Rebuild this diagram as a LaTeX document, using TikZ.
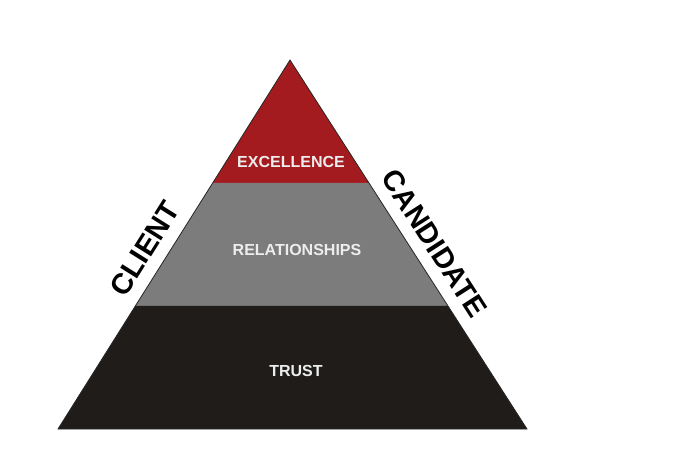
\documentclass[tikz,border=0pt]{standalone}
\usepackage{fontspec}
\setmainfont{Liberation Sans}
\usetikzlibrary{calc}
\definecolor{topred}{HTML}{A31B1F}
\definecolor{midgray}{HTML}{7C7C7C}
\definecolor{basedark}{HTML}{1F1C1A}
\begin{document}
\begin{tikzpicture}[x=1pt,y=1pt,
  tierlabel/.style={font=\bfseries\fontsize{16}{18}\selectfont, text=white!93!black},
  sidelabel/.style={font=\bfseries\fontsize{29}{32}\selectfont, inner sep=0pt, sloped, above=12pt}]
\useasboundingbox (0,0) rectangle (673,451);
\coordinate (apex) at (290,391);
\coordinate (bl) at (58,22);
\coordinate (br) at (527,22);
\coordinate (l1) at ($(apex)!1/3!(bl)$);
\coordinate (r1) at ($(apex)!1/3!(br)$);
\coordinate (l2) at ($(apex)!2/3!(bl)$);
\coordinate (r2) at ($(apex)!2/3!(br)$);

\fill[topred] (apex) -- (l1) -- (r1) -- cycle;
\fill[midgray] (l1) -- (l2) -- (r2) -- (r1) -- cycle;
\fill[basedark] (l2) -- (bl) -- (br) -- (r2) -- cycle;
\draw[line width=0.8pt, black!85] (apex) -- (bl) -- (br) -- cycle;

\node[tierlabel] (excellence) at (291,289) {EXCELLENCE};
\node[tierlabel] (relationships) at (297,201) {RELATIONSHIPS};
\node[tierlabel] (trust) at (296,80) {TRUST};

\path (bl) -- (apex) node[sidelabel, pos=0.456] (client) {CLIENT};
\path (apex) -- (br) node[sidelabel, pos=0.53] (candidate) {CANDIDATE};
\end{tikzpicture}
\end{document}
